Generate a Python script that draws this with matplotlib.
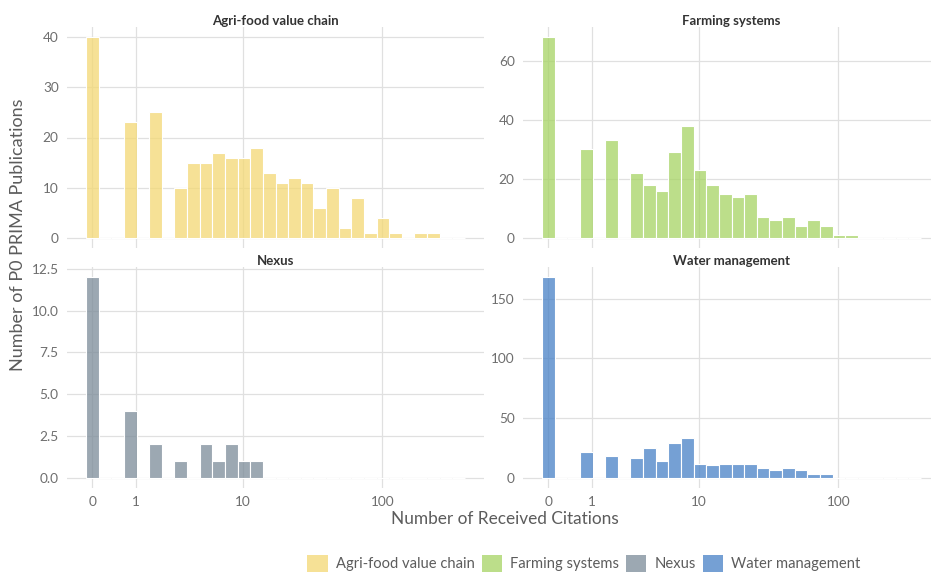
import numpy as np
import matplotlib.pyplot as plt
from matplotlib.patches import Patch
from matplotlib.colors import to_rgba

plt.rcParams["font.family"] = ["Lato", "DejaVu Sans"]

# ---- data -------------------------------------------------------------
categories = ["Agri-food value chain", "Farming systems", "Nexus", "Water management"]
colors = ["#F3D873", "#A6D363", "#7B8B98", "#4780C6"]

# publication counts in 30 equal-width bins of log10(1 + citations)
agri_counts = [40, 0, 0, 23, 0, 25, 0, 10, 15, 15, 17, 16, 16, 18, 13,
               11, 12, 11, 6, 10, 2, 8, 1, 4, 1, 0, 1, 1, 0, 0]
farming_counts = [68, 0, 0, 30, 0, 33, 0, 22, 18, 16, 29, 38, 23, 18, 15,
                  14, 15, 7, 6, 7, 4, 6, 4, 1, 1, 0, 0, 0, 0, 0]
nexus_counts = [12, 0, 0, 4, 0, 2, 0, 1, 0, 2, 1, 2, 1, 1, 0,
                0, 0, 0, 0, 0, 0, 0, 0, 0, 0, 0, 0, 0, 0, 0]
water_counts = [168, 0, 0, 22, 0, 18, 0, 17, 25, 14, 29, 33, 12, 11, 12,
                12, 12, 8, 7, 8, 7, 3, 3, 0, 0, 0, 0, 0, 0, 0]
counts = [agri_counts, farming_counts, nexus_counts, water_counts]

max_citations = 339          # largest citation count, sets the bin grid
x_ticks = [0, 1, 10, 100]
x_tick_labels = ["0", "1", "10", "100"]
y_ticks = [[0, 10, 20, 30, 40],
           [0, 20, 40, 60],
           [0, 2.5, 5, 7.5, 10, 12.5],
           [0, 50, 100, 150]]
x_title = "Number of Received Citations"
y_title = "Number of P0 PRIMA Publications"

# ---- scale helpers ----------------------------------------------------
def fwd(x):
    x = np.asarray(x, dtype=float)
    return np.log10(1.0 + np.clip(x, -0.999999, None))

def inv(y):
    return 10.0 ** np.asarray(y, dtype=float) - 1.0

n_bins = len(agri_counts)
bw = fwd(max_citations) / (n_bins - 1)
centers_t = np.arange(n_bins) * bw
lo_t, hi_t = centers_t - bw / 2, centers_t + bw / 2
span = hi_t[-1] - lo_t[0]
xlim_t = (lo_t[0] - 0.05 * span, hi_t[-1] + 0.05 * span)

# ---- figure -----------------------------------------------------------
W, H = 931, 574
fig = plt.figure(figsize=(W / 100, H / 100), dpi=100)

def px_axes(x0, y0, x1, y1):
    return fig.add_axes([x0 / W, 1 - y1 / H, (x1 - x0) / W, (y1 - y0) / H])

boxes = [(67, 27, 484, 248), (523, 27, 940, 248),
         (67, 267, 484, 488), (523, 267, 940, 488)]

tick_col = "#6e6e6e"
grid_col = "#e0e0e0"

for i, (cat, col, cnt, box) in enumerate(zip(categories, colors, counts, boxes)):
    ax = px_axes(*box)
    ax.set_xscale("function", functions=(fwd, inv))
    left = inv(lo_t)
    right = inv(hi_t)
    ax.bar(left, cnt, width=right - left, align="edge",
           facecolor=to_rgba(col, 0.75), edgecolor="white", linewidth=0.8,
           zorder=2)
    ax.set_xlim(inv(xlim_t[0]), inv(xlim_t[1]))
    top = max(cnt)
    ax.set_ylim(-0.05 * top, 1.05 * top)
    ax.set_xticks(x_ticks)
    ax.set_xticks([], minor=True)
    ax.set_yticks(y_ticks[i])
    if i == 2:
        ax.set_yticklabels([f"{v:.1f}" for v in y_ticks[i]])
    else:
        ax.set_yticklabels([f"{v:g}" for v in y_ticks[i]])
    if i >= 2:
        ax.set_xticklabels(x_tick_labels)
    else:
        ax.set_xticklabels([])
    ax.set_axisbelow(True)
    ax.grid(True, color=grid_col, linewidth=0.9, zorder=0)
    for s in ax.spines.values():
        s.set_visible(False)
    ax.tick_params(length=0, labelsize=9.8, labelcolor=tick_col, pad=6)
    ax.set_title(cat, fontsize=9.5, fontweight="bold", color="#333333", pad=1)

fig.text(505 / W, 1 - 519 / H, x_title, ha="center", va="center",
         fontsize=12.4, color="#5c5c5c")
fig.text(18 / W, 1 - 235 / H, y_title, ha="center", va="center",
         rotation=90, fontsize=13.0, color="#5c5c5c")

handles = [Patch(facecolor=to_rgba(c, 0.75), edgecolor="none") for c in colors]
fig.legend(handles, categories, loc="center", ncol=4,
           bbox_to_anchor=(584 / W, 1 - 563.5 / H), frameon=False,
           fontsize=10.6, labelcolor="#5c5c5c", handlelength=1.4,
           handleheight=1.4, handletextpad=0.55, columnspacing=0.45,
           borderpad=0, borderaxespad=0)

fig.savefig("out.png", dpi=100)
